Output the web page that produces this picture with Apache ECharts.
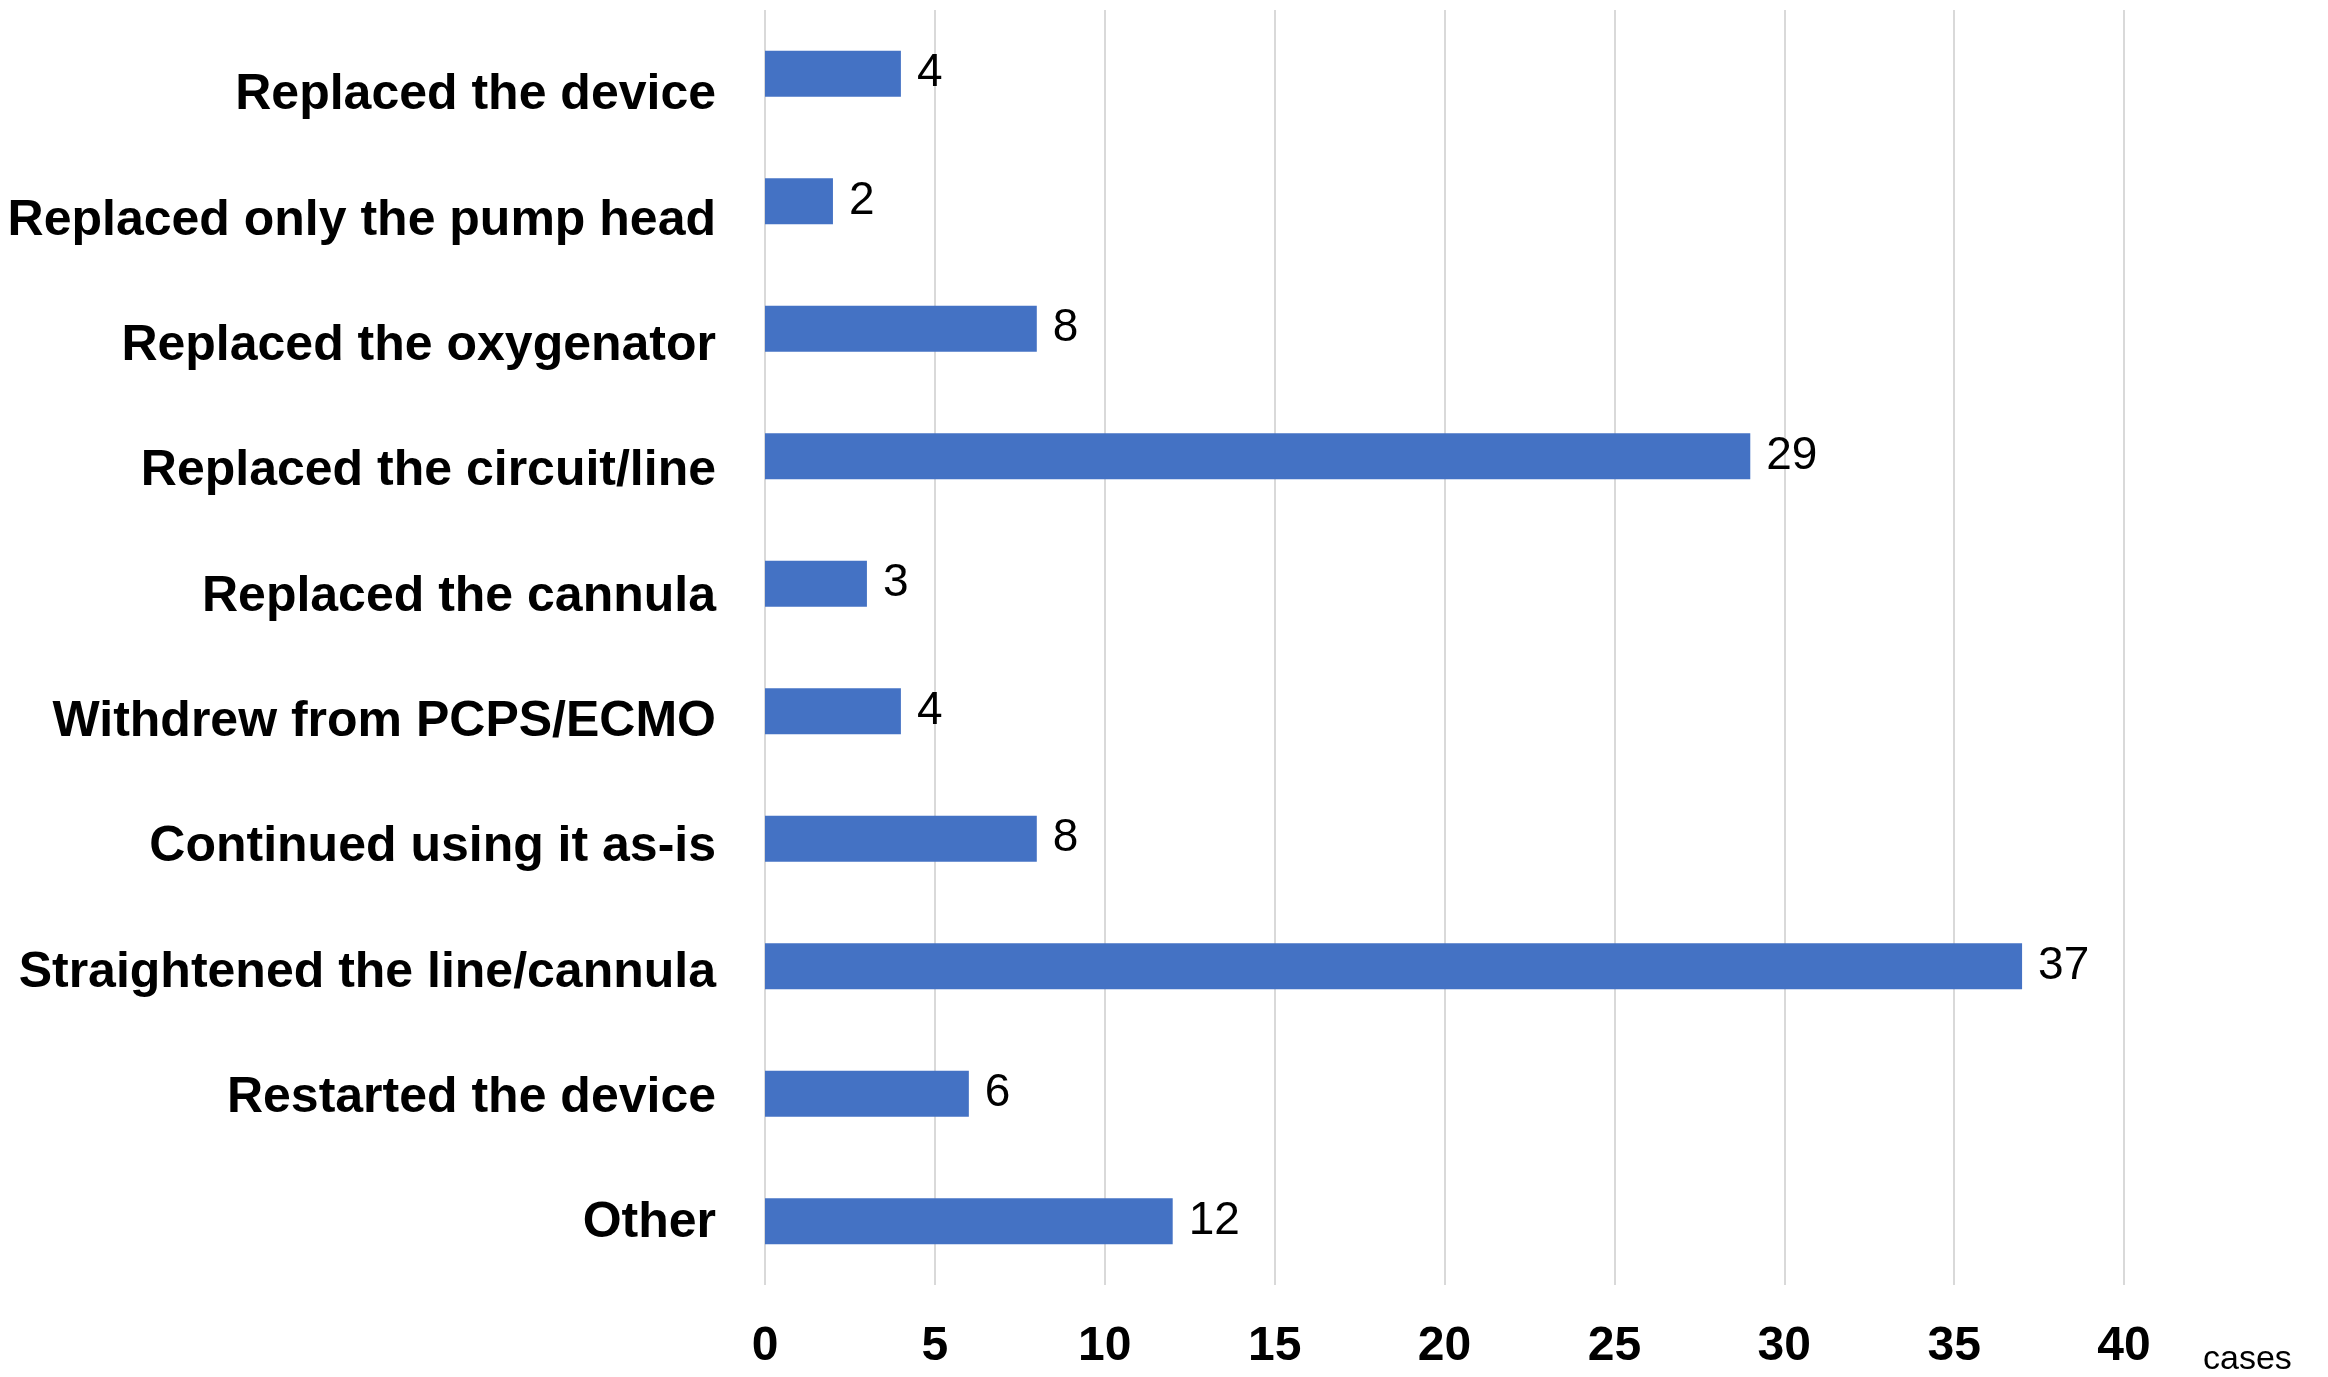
<!DOCTYPE html>
<html>
<head>
<meta charset="utf-8">
<script src="https://cdn.jsdelivr.net/npm/echarts@6/dist/echarts.min.js"></script>
<style>
  html, body { margin: 0; padding: 0; background: #fff; }
  #main { width: 2328px; height: 1377px; }
</style>
</head>
<body>
<div id="main"></div>
<script>
// categories, top to bottom
const categories = [
  'Replaced the device',
  'Replaced only the pump head',
  'Replaced the oxygenator',
  'Replaced the circuit/line',
  'Replaced the cannula',
  'Withdrew from PCPS/ECMO',
  'Continued using it as-is',
  'Straightened the line/cannula',
  'Restarted the device',
  'Other'
]
// number of cases
const cases = [4, 2, 8, 29, 3, 4, 8, 37, 6, 12]
const xTicks = [0, 5, 10, 15, 20, 25, 30, 35, 40]

const myChart = echarts.init(document.getElementById('main'))
myChart.setOption({
  animation: false,
  textStyle: { fontFamily: 'Liberation Sans, Arial, sans-serif' },
  grid: [
    // bars
    { left: 765, right: 204, top: 10, bottom: 89 },
    // category labels (spaced a little tighter than the bars, as in the original)
    { left: 765, right: 204, top: 33, bottom: 91 }
  ],
  xAxis: [{
    type: 'value',
    gridIndex: 0,
    min: xTicks[0],
    max: xTicks[xTicks.length - 1],
    interval: 5,
    name: 'cases',
    nameLocation: 'end',
    nameGap: 79,
    nameTextStyle: {
      color: '#000',
      fontSize: 34,
      align: 'left',
      verticalAlign: 'top',
      padding: [58, 0, 0, 0]
    },
    axisLine: { show: false },
    axisTick: { show: false },
    axisLabel: {
      color: '#000',
      fontSize: 48,
      fontWeight: 'bold',
      margin: 38
    },
    splitLine: { show: true, lineStyle: { color: '#d9d9d9', width: 2 } }
  }, {
    type: 'value',
    gridIndex: 1,
    min: 0,
    max: 40,
    show: false
  }],
  yAxis: [{
    type: 'category',
    gridIndex: 0,
    inverse: true,
    data: categories,
    axisLine: { show: false },
    axisTick: { show: false },
    axisLabel: { show: false }
  }, {
    type: 'category',
    gridIndex: 1,
    inverse: true,
    data: categories,
    axisLine: { show: false },
    axisTick: { show: false },
    splitLine: { show: false },
    axisLabel: {
      color: '#000',
      fontSize: 50,
      fontWeight: 'bold',
      margin: 49
    }
  }],
  series: [{
    type: 'bar',
    xAxisIndex: 0,
    yAxisIndex: 0,
    data: cases,
    barWidth: 46,
    itemStyle: { color: '#4472C4' },
    label: {
      show: true,
      position: 'right',
      distance: 16,
      color: '#000',
      fontSize: 46
    }
  }]
})
</script>
</body>
</html>
